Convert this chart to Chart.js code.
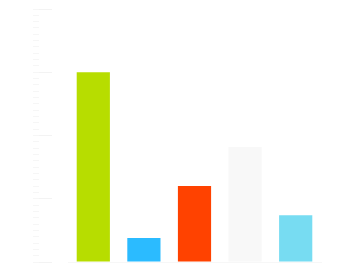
<!DOCTYPE html>
<html>
<head>
<meta charset="utf-8">
<script src="https://cdn.jsdelivr.net/npm/chart.js@4/dist/chart.umd.min.js"></script>
<style>
  html, body { margin: 0; padding: 0; background: #fff; }
  #wrap { width: 340px; height: 268px; }
</style>
</head>
<body>
<div id="wrap"><canvas id="barChart"></canvas></div>
<script>
const categories = ['A', 'B', 'C', 'D', 'E'];
const values = [30, 3.8, 12, 18.2, 7.4];
const barColors = ['#b7dd00', '#2bbbff', '#ff4200', '#f8f8f8', '#77dcf2'];
const yMin = 0;
const yMax = 40;

document.addEventListener('DOMContentLoaded', () => {
    const ctx = document.getElementById('barChart').getContext('2d');

    new Chart(ctx, {
        type: 'bar',
        data: {
            labels: categories,
            datasets: [{
                data: values,
                backgroundColor: barColors,
                borderWidth: 0,
                yAxisID: 'y',
                categoryPercentage: 0.8,
                barPercentage: 0.82
            }]
        },
        options: {
            responsive: true,
            maintainAspectRatio: false,
            animation: false,
            layout: { padding: { left: 33, right: 19, top: 9, bottom: 6 } },
            plugins: { legend: { display: false }, tooltip: { enabled: false } },
            scales: {
                x: {
                    grid: { display: false, drawTicks: false },
                    ticks: { display: false },
                    border: { display: true, color: '#f7f7f7', width: 1 }
                },
                // empty gap between the ticks and the bars (ends up innermost)
                ySpacer: {
                    type: 'linear',
                    position: 'left',
                    min: yMin,
                    max: yMax,
                    ticks: { display: false },
                    grid: { drawOnChartArea: false, tickLength: 16, tickColor: 'rgba(0,0,0,0)' },
                    border: { display: false }
                },
                y: {
                    type: 'linear',
                    position: 'left',
                    min: yMin,
                    max: yMax,
                    ticks: { display: false, stepSize: 10 },
                    grid: { drawOnChartArea: false, tickLength: 13, tickColor: '#f3f3f3' },
                    border: { display: false }
                },
                // minor ticks, outermost
                yMinor: {
                    type: 'linear',
                    position: 'left',
                    min: yMin,
                    max: yMax,
                    ticks: { display: false, stepSize: 1 },
                    grid: { drawOnChartArea: false, tickLength: 6, tickColor: '#f6f6f6' },
                    border: { display: false }
                }
            }
        }
    });
});
</script>
</body>
</html>
